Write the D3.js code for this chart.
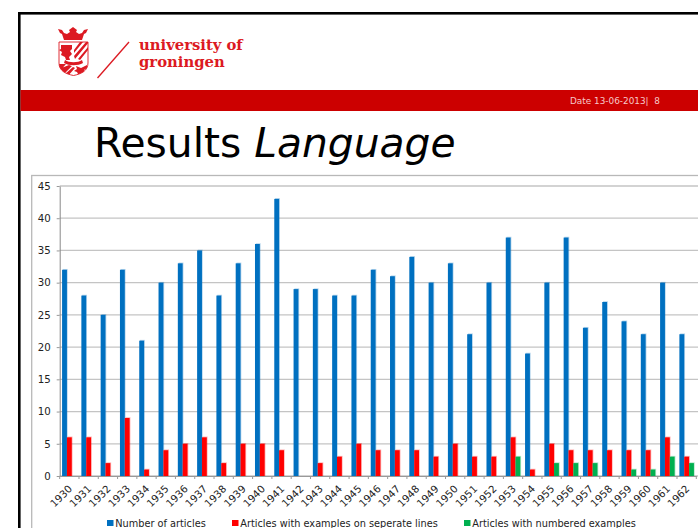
<!DOCTYPE html>
<html>
<head>
<meta charset="utf-8">
<script src="https://cdn.jsdelivr.net/npm/d3@7"></script>
<style>
  html, body { margin: 0; padding: 0; background: #fff; overflow: hidden; }
  svg { display: block; }
  text { font-family: "DejaVu Sans", Verdana, sans-serif; }
</style>
</head>
<body>
<svg id="slide" width="698" height="528"></svg>
<script>
const years = d3.range(1930, 1963).map(String);
const totalArticles = [32, 28, 25, 32, 21, 30, 33, 35, 28, 33, 36, 43, 29, 29, 28, 28, 32, 31, 34, 30, 33, 22, 30, 37, 19, 30, 37, 23, 27, 24, 22, 30, 22];
const separateLines = [6, 6, 2, 9, 1, 4, 5, 6, 2, 5, 5, 4, 0, 2, 3, 5, 4, 4, 4, 3, 5, 3, 3, 6, 1, 5, 4, 4, 4, 4, 4, 6, 3];
const numbered = [0, 0, 0, 0, 0, 0, 0, 0, 0, 0, 0, 0, 0, 0, 0, 0, 0, 0, 0, 0, 0, 0, 0, 3, 0, 2, 2, 2, 0, 1, 1, 3, 2];
const seriesNames = ['Number of articles', 'Articles with examples on seperate lines', 'Articles with numbered examples'];
const seriesColors = ['#0070c0', '#ff0000', '#00b050'];
const yTicks = [0, 5, 10, 15, 20, 25, 30, 35, 40, 45];

const svg = d3.select('#slide');
const logoRed = '#dc1a22';

// slide frame and red band
svg.append('rect').attr('x', 19.3).attr('y', 13.3).attr('width', 700).attr('height', 540)
  .attr('fill', '#fff').attr('stroke', '#000').attr('stroke-width', 2.6);
svg.append('rect').attr('x', 20.5).attr('y', 90).attr('width', 678).attr('height', 21).attr('fill', '#cc0000');
svg.append('text').attr('x', 570).attr('y', 104).attr('fill', '#f6c9c9')
  .style('font-size', '8.9px').style('white-space', 'pre').text('Date 13-06-2013|  8');

// logo: crown and shield drawn by hand, then slash and wordmark
const shield = 'M59 42h29v21c0 8-7 11-14.5 12.5C66 74 59 71 59 63z';
svg.append('clipPath').attr('id', 'shieldClip').append('path').attr('d', shield);
const logo = svg.append('g').attr('fill', logoRed);
logo.append('path').attr('d', 'M58 29l4 1 2 3 3 1 3-2-1-2 4-3 4 3-1 2 3 2 3-1 2-3 4-1-2 4-2 1-2 6H64l-2-6-2-1z');
logo.append('path').attr('d', shield).attr('fill', '#fff').attr('stroke', logoRed).attr('stroke-width', 0.9);
const crest = logo.append('g').attr('clip-path', 'url(#shieldClip)');
crest.append('path').attr('d', 'M61 45h11v4l-2 2 2 3-3 3 1 3h-4l-1-3-4-2 1-3-3-2 2-1z');
crest.append('path').attr('d', 'M74 56l12-14h3l-14 17zM78 59l10-12v3l-8 10zM74 50l6-8h3l-9 11z');
crest.append('path').attr('d', 'M59 64l7 0-7 8zM59 69l10-4 3 1-11 11h-2zM64 75l9-8 2 1-8 9z');
crest.append('path').attr('d', 'M76 66l5 2 6-3v3l-3 2 1 4-4-1-2 3-2-4-3-1 3-2z');
crest.append('path').attr('d', 'M65 60c4 3 13 3 17 0l1 3c-5 3-14 3-19 0z');
svg.append('line').attr('x1', 97.5).attr('y1', 78).attr('x2', 129).attr('y2', 42)
  .attr('stroke', logoRed).attr('stroke-width', 1.4);
logo.append('text').attr('x', 139).attr('y', 50).style('font-family', '"DejaVu Serif", serif')
  .style('font-weight', 'bold').style('font-size', '14.8px').text('university of');
logo.append('text').attr('x', 139).attr('y', 67).style('font-family', '"DejaVu Serif", serif')
  .style('font-weight', 'bold').style('font-size', '14.8px').text('groningen');

// title
const title = svg.append('text').attr('x', 94).attr('y', 157).attr('fill', '#000').style('font-size', '40.8px');
title.append('tspan').text('Results ');
title.append('tspan').style('font-style', 'italic').text('Language');

// chart box
svg.append('rect').attr('x', 31.7).attr('y', 175.5).attr('width', 700).attr('height', 400)
  .attr('fill', '#fff').attr('stroke', '#b8b8b8').attr('stroke-width', 1.3);

const x = d3.scaleBand().domain(years).range([59.7, 696.3]);
const xSeries = d3.scaleBand().domain([0, 1, 2]).range([0, x.bandwidth()]).paddingOuter(0.49);
const y = d3.scaleLinear().domain([0, 45]).range([476, 186]);

// gridlines
svg.append('g').selectAll('line')
  .data(yTicks)
  .enter()
  .append('line')
  .attr('x1', 59.7).attr('x2', 698)
  .attr('y1', d => y(d)).attr('y2', d => y(d))
  .attr('stroke', '#c4c4c4').attr('stroke-width', 1.3);

const seriesValues = [totalArticles, separateLines, numbered];
seriesValues.forEach((values, s) => {
  // pale edge on the right and top of each bar, as in the slide export
  svg.append('g').attr('fill', seriesColors[s]).attr('opacity', 0.28)
    .selectAll('rect')
    .data(values)
    .enter()
    .append('rect')
    .attr('x', (d, i) => x(years[i]) + xSeries(s) + 0.8)
    .attr('y', d => y(d) - 0.8)
    .attr('width', d => d > 0 ? xSeries.bandwidth() : 0)
    .attr('height', d => y(0) - y(d) + 0.8);
  svg.append('g').attr('fill', seriesColors[s])
    .selectAll('rect')
    .data(values)
    .enter()
    .append('rect')
    .attr('x', (d, i) => x(years[i]) + xSeries(s))
    .attr('y', d => y(d))
    .attr('width', xSeries.bandwidth())
    .attr('height', d => y(0) - y(d));
});

const yAxis = d3.axisLeft(y).tickValues(yTicks).tickSize(3).tickSizeOuter(0).tickPadding(6);
const yG = svg.append('g').attr('transform', 'translate(59.7,0)').call(yAxis);
yG.select('.domain').attr('stroke', '#888');
yG.selectAll('.tick line').attr('stroke', '#999');
yG.selectAll('.tick text').attr('fill', '#222').style('font-size', '10.2px');

const xAxis = d3.axisBottom(x).tickSize(0).tickSizeOuter(0);
const xG = svg.append('g').attr('transform', `translate(0,${y(0)})`).call(xAxis);
xG.select('.domain').attr('stroke', '#999');
xG.selectAll('.tick line').remove();
xG.selectAll('.tick text')
  .attr('fill', '#222')
  .style('font-size', '10.2px')
  .attr('text-anchor', 'end')
  .attr('y', 0)
  .attr('dy', '0.35em')
  .attr('transform', 'translate(1,11) rotate(-45)');
// tick marks sit on the category boundaries
xG.selectAll('line.boundary')
  .data(years.concat(['end']))
  .enter()
  .append('line')
  .attr('class', 'boundary')
  .attr('x1', (d, i) => i < years.length ? x(d) : x(years[years.length - 1]) + x.step())
  .attr('x2', (d, i) => i < years.length ? x(d) : x(years[years.length - 1]) + x.step())
  .attr('y1', 0).attr('y2', 3).attr('stroke', '#999');

// legend
const legendX = [107, 232, 464];
const legend = svg.append('g').selectAll('g')
  .data(seriesNames)
  .enter()
  .append('g')
  .attr('transform', (d, i) => `translate(${legendX[i]},520)`);
legend.append('rect').attr('width', 6.5).attr('height', 6).attr('fill', (d, i) => seriesColors[i]);
legend.append('text').attr('x', 8.3).attr('y', 7).attr('fill', '#222').style('font-size', '9.75px').text(d => d);
</script>
</body>
</html>
